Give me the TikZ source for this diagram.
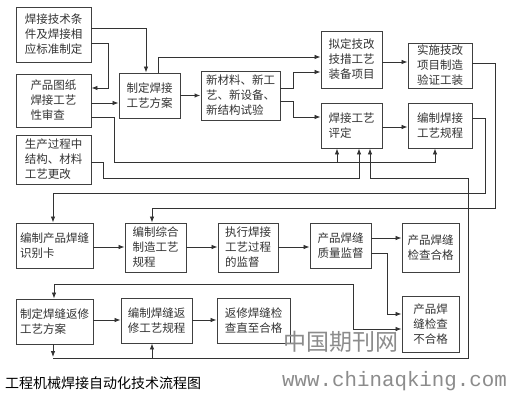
\documentclass[tikz,border=0pt]{standalone}
\usepackage{fontspec}
\setmainfont{Noto Sans CJK SC}
\newfontfamily\monof{Liberation Mono}
\usetikzlibrary{arrows.meta}
\begin{document}
\begin{tikzpicture}[x=1pt,y=-1pt,
  box/.style={draw=black!75, line width=0.9pt, align=left, inner sep=1pt,
    font=\fontsize{11.5}{15}\selectfont, text=black!80},
  ln/.style={draw=black!80, line width=0.8pt},
  arr/.style={ln, -{Latex[length=6pt,width=4.5pt]}},
  wm/.style={text=black!45, inner sep=0pt}
]
\fill[white] (0,0) rectangle (511,401);
\useasboundingbox (0,0) rectangle (511,401);

% row 1-2
\node[box, minimum width=75pt, minimum height=55pt] (A) at (53.5,34.5) {焊接技术条\\件及焊接相\\应标准制定};
\node[box, minimum width=75pt, minimum height=53pt] (B) at (53.5,100.5) {产品图纸\\焊接工艺\\性审查};
\node[box, minimum width=75pt, minimum height=49pt] (C) at (53.5,159.5) {生产过程中\\结构、材料\\工艺更改};
\node[box, minimum width=61pt, minimum height=45pt] (D) at (149.5,95.5) {制定焊接\\工艺方案};
\node[box, minimum width=79pt, minimum height=49pt] (E) at (240.5,95.5) {新材料、新工\\艺、新设备、\\新结构试验};
\node[box, minimum width=61pt, minimum height=57pt] (F) at (351.5,59.5) {拟定技改\\技措工艺\\装备项目};
\node[box, minimum width=64pt, minimum height=45pt] (G) at (440,65.5) {实施技改\\项目制造\\验证工装};
\node[box, minimum width=61pt, minimum height=45pt] (H) at (351.5,125.5) {焊接工艺\\评定\phantom{工艺}};
\node[box, minimum width=64pt, minimum height=45pt] (I) at (440,125.5) {编制焊接\\工艺规程};

% row 3
\node[box, minimum width=77pt, minimum height=45pt] (J) at (54.5,245.5) {编制产品焊缝\\识别卡\phantom{焊缝}};
\node[box, minimum width=61pt, minimum height=49pt] (K) at (155.5,247.5) {编制综合\\制造工艺\\规程\phantom{工艺}};
\node[box, minimum width=60pt, minimum height=49pt] (L) at (248,247.5) {执行焊接\\工艺过程\\的监督\phantom{程}};
\node[box, minimum width=61pt, minimum height=45pt] (M) at (340.5,245.5) {产品焊缝\\质量监督};
\node[box, minimum width=57pt, minimum height=49pt] (N) at (430.5,247.5) {产品焊缝\\检查合格};
\node[box, minimum width=57pt, minimum height=56pt, align=center] (O) at (430.5,324) {产品焊\\缝检查\\不合格};

% row 4
\node[box, minimum width=77pt, minimum height=45pt] (P) at (54.5,321.5) {制定焊缝返修\\工艺方案\phantom{返修}};
\node[box, minimum width=71pt, minimum height=45pt] (Q) at (156.5,320.5) {编制焊缝返\\修工艺规程};
\node[box, minimum width=73pt, minimum height=45pt] (R) at (253.5,320.5) {返修焊缝检\\查直至合格};

% connectors top part
\draw[arr] (A.east |- 0,28) -- (146,28) -- (146,0 |- D.north);
\draw[arr] (A.east |- 0,43) -- (108,43) -- (108,88) -- (B.east |- 0,88);
\draw[arr] (B.east |- 0,103) -- (D.west |- 0,103);
\draw[arr] (B.east |- 0,117) -- (114,117) -- (114,162) -- (435,162) -- (435,0 |- I.south);
\draw[arr] (337,162) -- (337,0 |- H.south);
\draw[arr] (C.east |- 0,162) -- (103,162) -- (103,178) -- (359,178) -- (359,0 |- H.south);
\draw[arr] (158,0 |- D.north) -- (158,57) -- (F.west |- 0,57);
\draw[arr, line width=1.4pt] (D.east) -- (E.west);
\draw[arr] (E.east |- 0,88) -- (293,88) -- (293,72) -- (F.west |- 0,72);
\draw[arr] (E.east |- 0,101) -- (293,101) -- (293,117) -- (H.west |- 0,117);
\draw[arr] (F.east |- 0,62) -- (G.west |- 0,62);
\draw[arr] (H.east |- 0,127) -- (I.west |- 0,127);
\draw[arr] (G.east |- 0,63) -- (495,63) -- (495,208) -- (152,208) -- (152,0 |- K.north);
\draw[arr] (I.east |- 0,118) -- (485,118) -- (485,193) -- (53,193) -- (53,0 |- J.north);

% row 3 connectors
\draw[arr] (J.east |- 0,247) -- (K.west |- 0,247);
\draw[arr] (K.east |- 0,247) -- (L.west |- 0,247);
\draw[arr] (L.east |- 0,247) -- (M.west |- 0,247);
\draw[arr] (M.east |- 0,238) -- (N.west |- 0,238);
\draw[arr] (M.east |- 0,253) -- (387,253) -- (387,314) -- (O.west |- 0,314);
\draw[ln, {Latex[length=6pt,width=4.5pt]}-{Latex[length=6pt,width=4.5pt]}] (54,0 |- P.north) -- (54,284) -- (353,284) -- (353,329) -- (O.west |- 0,329);

% row 4 connectors
\draw[arr] (P.east |- 0,320) -- (Q.west |- 0,320);
\draw[arr] (Q.east |- 0,320) -- (R.west |- 0,320);
\draw[arr] (53,0 |- P.south) -- (53,357);
\draw[arr] (53,358) -- (468,358) -- (468,178) -- (370,178) -- (370,0 |- H.south);
\draw[arr] (152,358) -- (152,0 |- Q.south);

% title and watermarks
\node[anchor=west, inner sep=0pt, font=\fontsize{14}{14}\selectfont] (title) at (5,383) {工程机械焊接自动化技术流程图};
\node[wm, anchor=west, font=\fontsize{23}{23}\selectfont] (wm1) at (283,342) {中国期刊网};
\node[wm, anchor=west, font=\monof\fontsize{20.8}{20.8}\selectfont] (wm2) at (282,381) {www.chinaqking.com};
\end{tikzpicture}
\end{document}
